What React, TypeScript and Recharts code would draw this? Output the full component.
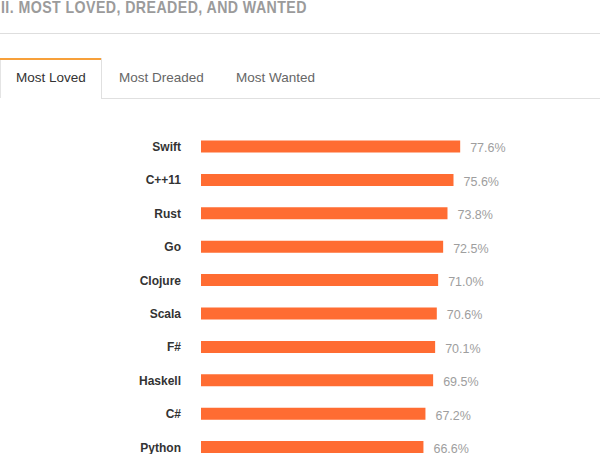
import React from 'react';
import { BarChart, Bar, XAxis, YAxis, LabelList } from 'recharts';

const languages = ['Swift', 'C++11', 'Rust', 'Go', 'Clojure', 'Scala', 'F#', 'Haskell', 'C#', 'Python'];
const lovedPct = [77.6, 75.6, 73.8, 72.5, 71.0, 70.6, 70.1, 69.5, 67.2, 66.6];
const tabLabels = ['Most Loved', 'Most Dreaded', 'Most Wanted'];
const titleText = 'II. MOST LOVED, DREADED, AND WANTED';

const data = languages.map((name, i) => ({ name, value: lovedPct[i] }));

const FONT = '"Liberation Sans", Arial, Helvetica, sans-serif';

export default function App() {
  return (
    <div style={{ position: 'absolute', left: 0, top: 0, width: 600, height: 454, overflow: 'hidden', background: '#fff', fontFamily: FONT }}>
      <div style={{ position: 'absolute', left: 1, top: 0, fontFamily: FONT, fontWeight: 'bold', fontSize: 17, letterSpacing: 0.5, color: '#9b9b9b', whiteSpace: 'nowrap', transform: 'scaleX(0.835)', transformOrigin: '0 0', lineHeight: '16px' }}>
        {titleText}
      </div>
      <div style={{ position: 'absolute', left: 0, top: 33, width: 600, height: 1, background: '#dedede' }} />
      {/* tabs */}
      <div style={{ position: 'absolute', left: 0, top: 58, width: 101, height: 2, background: '#f7a03a' }} />
      <div style={{ position: 'absolute', left: 0, top: 60, width: 1, height: 38, background: '#e4e4e4' }} />
      <div style={{ position: 'absolute', left: 101, top: 58, width: 1, height: 41, background: '#e0e0e0' }} />
      <div style={{ position: 'absolute', left: 101, top: 98, width: 499, height: 1, background: '#e0e0e0' }} />
      <div style={{ position: 'absolute', left: 16, top: 70, fontSize: 13.5, color: '#333', whiteSpace: 'nowrap' }}>{tabLabels[0]}</div>
      <div style={{ position: 'absolute', left: 119, top: 70, fontSize: 13.5, color: '#666', whiteSpace: 'nowrap' }}>{tabLabels[1]}</div>
      <div style={{ position: 'absolute', left: 236, top: 70, fontSize: 13.5, color: '#666', whiteSpace: 'nowrap' }}>{tabLabels[2]}</div>
      <div style={{ position: 'absolute', left: 0, top: 0 }}>
        <BarChart
          width={600}
          height={470}
          data={data}
          layout="vertical"
          margin={{ top: 129.5, right: 65, bottom: 6.5, left: 0 }}
        >
          <XAxis type="number" domain={[0, 100]} hide />
          <YAxis
            type="category"
            dataKey="name"
            width={201}
            axisLine={false}
            tickLine={false}
            tickMargin={14}
            tick={{ fill: '#333', fontSize: 12, fontWeight: 'bold', fontFamily: FONT, dy: 0.5 }}
            interval={0}
          />
          <Bar dataKey="value" fill="#ff6c32" barSize={12} isAnimationActive={false}>
            <LabelList
              dataKey="value"
              position="right"
              offset={10}
              dy={1.5}
              formatter={(v: number) => `${v.toFixed(1)}%`}
              style={{ fill: '#9e9e9e', fontSize: 12.5, fontFamily: FONT }}
            />
          </Bar>
        </BarChart>
      </div>
    </div>
  );
}
